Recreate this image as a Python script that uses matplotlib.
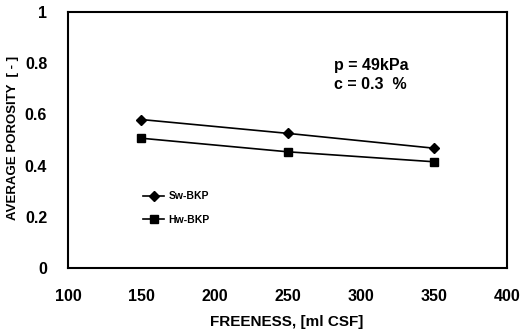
import matplotlib
matplotlib.use("Agg")
import matplotlib.pyplot as plt

plt.rcParams['font.family'] = ['Liberation Sans', 'DejaVu Sans']

freeness = [150, 250, 350]
sw_bkp = [0.58, 0.526, 0.468]
hw_bkp = [0.507, 0.454, 0.415]
xticks = [100, 150, 200, 250, 300, 350, 400]
yticks = [0, 0.2, 0.4, 0.6, 0.8, 1]
ytick_labels = ['0', '0.2', '0.4', '0.6', '0.8', '1']

fig = plt.figure(figsize=(5.2, 3.31), dpi=100)
ax = fig.add_axes([68/520, 1-268/331, (507-68)/520, (268-12)/331])

ax.plot(freeness, sw_bkp, color='black', lw=1.2, marker='D', ms=5, label='Sw-BKP')
ax.plot(freeness, hw_bkp, color='black', lw=1.2, marker='s', ms=6, label='Hw-BKP')

ax.set_xlim(100, 400)
ax.set_ylim(0, 1)
ax.set_xticks(xticks)
ax.set_xticklabels([str(t) for t in xticks], fontsize=11.5, fontweight='bold')
ax.set_yticks(yticks)
ax.set_yticklabels(ytick_labels, fontsize=11.5, fontweight='bold')
ax.tick_params(axis='x', length=0, pad=15)
ax.tick_params(axis='y', length=0, pad=15)
for s in ax.spines.values():
    s.set_linewidth(1.5)

fig.text(287/520, 1-322/331, 'FREENESS, [ml CSF]', fontsize=11, fontweight='bold',
         ha='center', va='center')
ax.set_ylabel('AVERAGE POROSITY  [ - ]', fontsize=9.5, fontweight='bold')
ax.yaxis.set_label_coords(-0.112, 0.51)

ax.text(0.605, 0.775, 'p = 49kPa', transform=ax.transAxes, fontsize=11.5, fontweight='bold')
ax.text(0.605, 0.70, 'c = 0.3  %', transform=ax.transAxes, fontsize=11.5, fontweight='bold')

leg = ax.legend(loc='upper left', bbox_to_anchor=(0.16, 0.32), frameon=False,
                prop={'size': 7.5, 'weight': 'bold'}, handlelength=2.0,
                handletextpad=0.4, labelspacing=1.3, borderpad=0)

fig.savefig('out.png', dpi=100)
